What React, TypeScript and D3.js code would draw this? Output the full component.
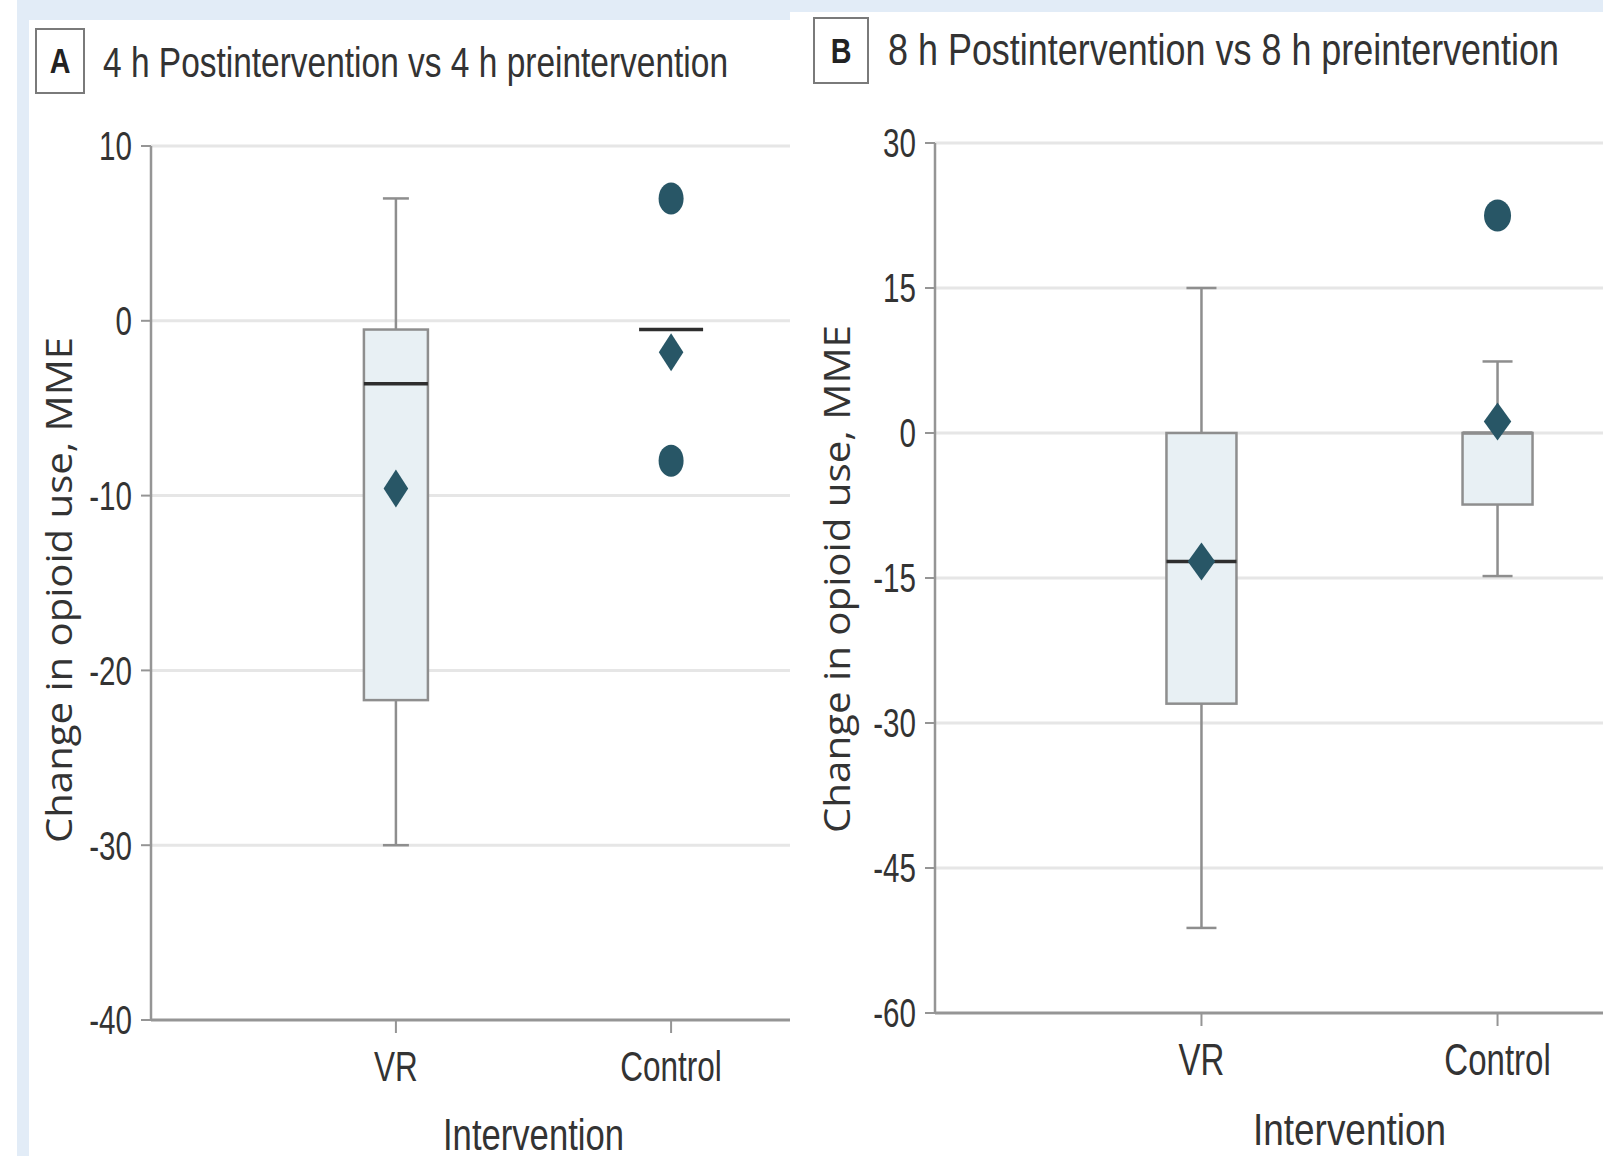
import React from "react"
import * as d3 from "d3"

// categories shared by both panels
const categories = ["VR", "Control"]

// panel A: 4 h post vs 4 h pre
const aTicks = [10, 0, -10, -20, -30, -40]
const aQ1 = [-21.7, -0.5]
const aMedian = [-3.6, -0.5]
const aQ3 = [-0.5, -0.5]
const aLow = [-30, null]
const aHigh = [7, null]
const aMean = [-9.6, -1.8]
const aOutliers = [[], [7, -8]]

// panel B: 8 h post vs 8 h pre
const bTicks = [30, 15, 0, -15, -30, -45, -60]
const bQ1 = [-28, -7.4]
const bMedian = [-13.3, 0]
const bQ3 = [0, 0]
const bLow = [-51.2, -14.8]
const bHigh = [15, 7.4]
const bMean = [-13.3, 1.2]
const bOutliers = [[], [22.5]]

const MARK = "#285666"
const BOXFILL = "#e8f0f4"
const BOXLINE = "#8e8e8e"
const GRID = "#e6e6e6"
const AXIS = "#959595"
const TEXT = "#333"
const SANS = "'Liberation Sans', Arial, sans-serif"

// condensed text: the narrow face isn't installed, so squeeze horizontally
const Narrow = ({ x, y, sx = 0.75, children, ...rest }) => (
    <text transform={`translate(${x},${y}) scale(${sx},1)`} fontFamily={SANS} fill={TEXT} {...rest}>{children}</text>
)

const Panel = ({ cfg }) => {
    const y = d3.scaleLinear().domain(cfg.domain).range(cfg.yRange)
    const x = d3.scalePoint().domain(categories).range(cfg.xRange).padding(cfg.xPad)
    const yBottom = y(cfg.domain[0])
    const yTop = y(cfg.domain[1])
    const diamond = d3.symbol(d3.symbolDiamond, 417)()
    const rows = categories.map((c, i) => ({
        cat: c,
        q1: cfg.q1[i], med: cfg.median[i], q3: cfg.q3[i],
        low: cfg.low[i], high: cfg.high[i], mean: cfg.mean[i], out: cfg.outliers[i]
    }))
    const half = cfg.boxWidth / 2
    const cap = cfg.capWidth / 2
    return (
        <g>
            {/* title */}
            <rect x={cfg.badge[0]} y={cfg.badge[1]} width={cfg.badge[2]} height={cfg.badge[3]}
                fill="#fff" stroke="#7a7a7a" strokeWidth={2} />
            <Narrow x={cfg.badge[0] + cfg.badge[2] / 2} y={cfg.badgeBase} sx={0.82} textAnchor="middle"
                fontWeight="bold" fontSize={35} fill="#222">{cfg.letter}</Narrow>
            <text x={cfg.titleX} y={cfg.titleBase} fontFamily={SANS} fontSize={cfg.titleSize} fill={TEXT}
                textLength={cfg.titleLen} lengthAdjust="spacingAndGlyphs">{cfg.title}</text>

            {/* grid */}
            {cfg.ticks.filter(t => t !== cfg.domain[0]).map(t => (
                <line key={"g" + t} x1={cfg.plotLeft} x2={1700} y1={y(t)} y2={y(t)} stroke={GRID} strokeWidth={3} />
            ))}

            {/* boxes */}
            {rows.map(r => {
                const cx = x(r.cat)
                return (
                    <g key={r.cat}>
                        {r.high !== null && <>
                            <line x1={cx} x2={cx} y1={y(r.q3)} y2={y(r.high)} stroke={BOXLINE} strokeWidth={2.5} />
                            <line x1={cx - cap} x2={cx + cap} y1={y(r.high)} y2={y(r.high)} stroke={BOXLINE} strokeWidth={2.5} />
                        </>}
                        {r.low !== null && <>
                            <line x1={cx} x2={cx} y1={y(r.q1)} y2={y(r.low)} stroke={BOXLINE} strokeWidth={2.5} />
                            <line x1={cx - cap} x2={cx + cap} y1={y(r.low)} y2={y(r.low)} stroke={BOXLINE} strokeWidth={2.5} />
                        </>}
                        {r.q3 !== r.q1 &&
                            <rect x={cx - half} width={cfg.boxWidth} y={y(r.q3)} height={y(r.q1) - y(r.q3)}
                                fill={BOXFILL} stroke={BOXLINE} strokeWidth={2.5} />}
                        <line x1={cx - half} x2={cx + half} y1={y(r.med)} y2={y(r.med)}
                            stroke={r.med === r.q3 && r.q3 !== r.q1 ? BOXLINE : "#2e2e2e"} strokeWidth={3.5} />
                        {r.out.map((o, j) => (
                            <ellipse key={j} cx={cx} cy={y(o)} rx={cfg.dotRx} ry={16} fill={MARK} />
                        ))}
                        <path d={diamond} transform={`translate(${cx},${y(r.mean)}) scale(${cfg.diaSx},1)`} fill={MARK} />
                    </g>
                )
            })}

            {/* y axis */}
            <line x1={cfg.plotLeft} x2={cfg.plotLeft} y1={yTop} y2={yBottom} stroke={AXIS} strokeWidth={2.5} />
            {cfg.ticks.map(t => (
                <g key={"t" + t}>
                    <line x1={cfg.plotLeft - 10} x2={cfg.plotLeft} y1={y(t)} y2={y(t)} stroke={AXIS} strokeWidth={2} />
                    <Narrow x={cfg.plotLeft - 19} y={y(t)} sx={0.74} dy="0.36em" textAnchor="end" fontSize={40}>{t}</Narrow>
                </g>
            ))}
            <text transform={`translate(${cfg.yTitleX},${cfg.yTitleY}) rotate(-90)`} textAnchor="middle"
                fontFamily="'Open Sans', sans-serif" fontSize={36} fill={TEXT}
                textLength={cfg.yTitleLen} lengthAdjust="spacingAndGlyphs">Change in opioid use, MME</text>

            {/* x axis */}
            <line x1={cfg.plotLeft} x2={1700} y1={yBottom} y2={yBottom} stroke={AXIS} strokeWidth={3} />
            {categories.map(c => (
                <g key={"x" + c}>
                    <line x1={x(c)} x2={x(c)} y1={yBottom} y2={yBottom + 13} stroke={AXIS} strokeWidth={2} />
                    <Narrow x={x(c)} y={yBottom + cfg.xLabelDy} sx={0.75} textAnchor="middle"
                        fontSize={cfg.xLabelSize}>{c}</Narrow>
                </g>
            ))}
            <text x={(x(categories[0]) + x(categories[1])) / 2} y={yBottom + cfg.xTitleDy} textAnchor="middle"
                fontFamily={SANS} fontSize={44} fill={TEXT}
                textLength={cfg.xTitleLen} lengthAdjust="spacingAndGlyphs">Intervention</text>
        </g>
    )
}

const panelA = {
    letter: "A", title: "4 h Postintervention vs 4 h preintervention",
    badge: [36, 29, 48, 64], badgeBase: 73, titleX: 103, titleBase: 77, titleLen: 625, titleSize: 42,
    domain: [-40, 10], yRange: [1020, 146], ticks: aTicks,
    xRange: [151, 916], xPad: 0.89, plotLeft: 151,
    q1: aQ1, median: aMedian, q3: aQ3, low: aLow, high: aHigh, mean: aMean, outliers: aOutliers,
    boxWidth: 64, capWidth: 26, dotRx: 12.5, diaSx: 1.12,
    yTitleX: 72, yTitleY: 590, yTitleLen: 506,
    xLabelDy: 61, xLabelSize: 42, xTitleDy: 130, xTitleLen: 181
}

const panelB = {
    letter: "B", title: "8 h Postintervention vs 8 h preintervention",
    badge: [814, 18, 54, 65], badgeBase: 63, titleX: 888, titleBase: 65, titleLen: 671, titleSize: 44,
    domain: [-60, 30], yRange: [1013, 143], ticks: bTicks,
    xRange: [935, 1764], xPad: 0.9, plotLeft: 935,
    q1: bQ1, median: bMedian, q3: bQ3, low: bLow, high: bHigh, mean: bMean, outliers: bOutliers,
    boxWidth: 70, capWidth: 30, dotRx: 13.5, diaSx: 1.25,
    yTitleX: 850, yTitleY: 579, yTitleLen: 508,
    xLabelDy: 62, xLabelSize: 44, xTitleDy: 132, xTitleLen: 193
}

export default function App() {
    return (
        <div style={{ position: "absolute", left: 0, top: 0 }}>
            <svg width={1603} height={1156} style={{ display: "block" }}>
                <rect x={0} y={0} width={1603} height={1156} fill="#fff" />
                <rect x={17} y={0} width={1586} height={1156} fill="#e2ecf7" />
                <rect x={29} y={20} width={1574} height={1136} fill="#fff" />
                <Panel cfg={panelA} />
                <rect x={790} y={12} width={813} height={1141} fill="#fff" />
                <Panel cfg={panelB} />
            </svg>
        </div>
    )
}
